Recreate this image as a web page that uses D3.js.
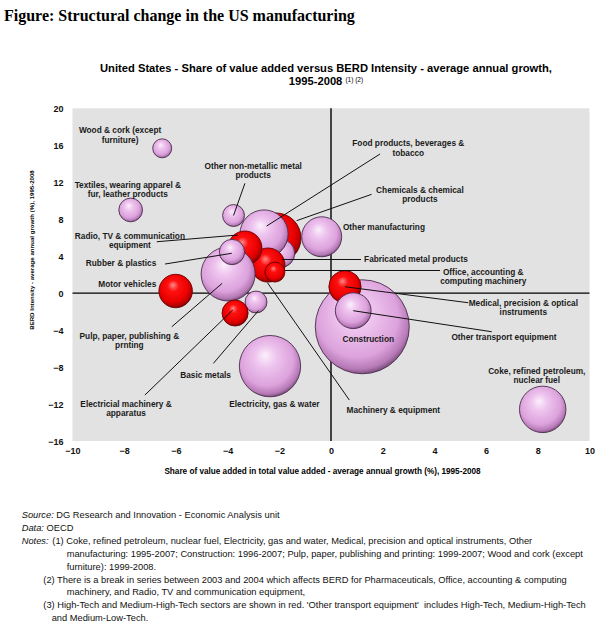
<!DOCTYPE html>
<html>
<head>
<meta charset="utf-8">
<script src="https://cdn.jsdelivr.net/npm/d3@7"></script>
<style>
  body { margin: 0; background: #fff; }
  svg { display: block; }
  text { font-family: "Liberation Sans", Arial, sans-serif; }
</style>
</head>
<body>
<svg width="609" height="631"></svg>
<script>

// sectors, in the order the bubbles are drawn (later ones sit on top)
var sectors = [
  "Construction", "Medical, precision & optical instruments", "Other transport equipment",
  "Chemicals & chemical products", "Fabricated metal products", "Food products, beverages & tobacco",
  "Machinery & equipment", "Office, accounting & computing machinery", "Radio, TV & communication equipment",
  "Pulp, paper, publishing & printing", "Rubber & plastics", "Other non-metallic metal products",
  "Basic metals", "Electrical machinery & apparatus", "Electricity, gas & water",
  "Other manufacturing", "Motor vehicles", "Textiles, wearing apparel & fur, leather products",
  "Wood & cork (except furniture)", "Coke, refined petroleum, nuclear fuel"
];

// share of value added - average annual growth (%)
var shareGrowth = [1.21, 0.54, 0.86, -2.13, -1.95, -2.59, -2.44, -2.17, -3.33, -3.98,
                   -3.83, -3.77, -2.90, -3.71, -2.36, -0.36, -6.01, -7.75, -6.53, 8.19];

// BERD intensity - average annual growth (%)
var berdGrowth = [-3.64, 0.69, -1.90, 5.96, 4.30, 6.40, 3.04, 2.28, 4.88, 2.07,
                  4.45, 8.40, -0.96, -2.15, -7.90, 6.10, 0.23, 9.00, 15.67, -12.58];

// bubble size
var bubbleSize = [22.1, 2.6, 3.2, 6.3, 2.0, 5.8, 2.9, 1.0, 2.9, 7.3,
                  1.6, 1.2, 1.2, 1.7, 9.4, 4.0, 2.8, 1.4, 0.9, 5.4];

// technology level (HT and MHT are drawn in red)
var techLevel = ["none", "HT", "mixed", "MHT", "MLT", "LT", "MHT", "HT", "HT", "LT",
                 "MLT", "MLT", "MLT", "MHT", "none", "LT", "MHT", "LT", "LT", "MLT"];

var xTicks = [-10, -8, -6, -4, -2, 0, 2, 4, 6, 8, 10];
var yTicks = [-16, -12, -8, -4, 0, 4, 8, 12, 16, 20];

// labels, placed in data units, with optional leader line (from -> to)
var labels = [
  {lines: ["Wood & cork (except", "furniture)"], x: -8.16, y: 17.3},
  {lines: ["Other non-metallic metal", "products"], x: -3.01, y: 13.43, from: [-3.33, 11.88], to: [-3.77, 8.4]},
  {lines: ["Textiles, wearing apparel &", "fur, leather products"], x: -7.86, y: 11.37},
  {lines: ["Radio, TV & communication", "equipment"], x: -7.78, y: 5.89, from: [-6.74, 5.56], to: [-3.6, 6.29]},
  {lines: ["Rubber & plastics"], x: -8.12, y: 2.9, from: [-6.42, 3.15], to: [-3.84, 4.31]},
  {lines: ["Motor vehicles"], x: -7.88, y: 0.63},
  {lines: ["Food products, beverages &", "tobacco"], x: 2.99, y: 15.89, from: [1.9, 15.06], to: [-2.49, 7.26]},
  {lines: ["Chemicals & chemical", "products"], x: 3.44, y: 10.83, from: [1.57, 10.69], to: [-1.33, 7.84]},
  {lines: ["Other manufacturing"], x: 0.46, y: 6.86, anchor: "start"},
  {lines: ["Fabricated metal products"], x: 1.28, y: 3.33, anchor: "start", from: [1.16, 3.64], to: [-1.9, 3.64]},
  {lines: ["Office, accounting &", "computing machinery"], x: 5.89, y: 1.99, from: [4.22, 2.45], to: [-1.78, 2.45]},
  {lines: ["Medical, precision & optical", "instruments"], x: 7.44, y: -1.36, from: [5.31, -1.04], to: [0.54, 0.69]},
  {lines: ["Other transport  equipment"], x: 6.69, y: -5.11, from: [6.22, -4.18], to: [0.86, -1.9]},
  {lines: ["Construction"], x: 1.44, y: -5.32},
  {lines: ["Coke, refined petroleum,", "nuclear fuel"], x: 7.96, y: -8.76},
  {lines: ["Machinery & equipment"], x: 2.41, y: -12.98, from: [0.71, -11.57], to: [-2.46, 1.13]},
  {lines: ["Pulp, paper, publishing &", "prnting"], x: -7.8, y: -4.97, from: [-6.16, -3.64], to: [-4.21, 1.06]},
  {lines: ["Basic metals"], x: -4.85, y: -9.19, from: [-4.55, -7.6], to: [-2.81, -1.9]},
  {lines: ["Electricial machinery &", "apparatus"], x: -7.93, y: -12.33, from: [-7.2, -11.03], to: [-3.8, -1.83]},
  {lines: ["Electricity, gas & water"], x: -2.19, y: -12.33}
];

var notes = [
  {x: 52.3, text: "(1) Coke, refined petroleum, nuclear fuel, Electricity, gas and water, Medical, precision and optical instruments, Other"},
  {x: 66.7, text: "manufacturing: 1995-2007; Construction: 1996-2007; Pulp, paper, publishing and printing: 1999-2007; Wood and cork (except"},
  {x: 66.7, text: "furniture): 1999-2008."},
  {x: 43.3, text: "(2) There is a break in series between 2003 and 2004 which affects BERD for Pharmaceuticals, Office, accounting & computing"},
  {x: 66.7, text: "machinery, and Radio, TV and communication equipment,"},
  {x: 43.3, text: "(3) High-Tech and Medium-High-Tech sectors are shown in red. 'Other transport equipment'  includes High-Tech, Medium-High-Tech"},
  {x: 51.7, text: "and Medium-Low-Tech."}
];


var svg = d3.select("svg");

var margin = {left: 72.5, right: 589.5, top: 108.3, bottom: 441};

var x = d3.scaleLinear()
    .domain([-10, 10])
    .range([margin.left, margin.right]);

var y = d3.scaleLinear()
    .domain([-16, 20])
    .range([margin.bottom, margin.top]);

var r = d3.scaleSqrt()
    .domain([0, 22.1])
    .range([0, 47]);

function isRed(level) { return level === "HT" || level === "MHT"; }

// sphere shading
var defs = svg.append("defs");

function sphere(id, stops) {
  var g = defs.append("radialGradient")
      .attr("id", id)
      .attr("cx", 0.46).attr("cy", 0.42)
      .attr("fx", 0.42).attr("fy", 0.32)
      .attr("r", 0.6);
  stops.forEach(function(s) {
    g.append("stop").attr("offset", s[0]).attr("stop-color", s[1]);
  });
}

sphere("pink", [[0, "#fbf0fb"], [0.3, "#eec4ee"], [0.72, "#dca2dc"], [0.9, "#b67ab6"], [1, "#6e4470"]]);
sphere("red", [[0, "#ff8a8a"], [0.28, "#ff1010"], [0.72, "#e80000"], [0.9, "#b00000"], [1, "#5a0000"]]);

// titles
svg.append("text")
    .attr("x", 4)
    .attr("y", 21)
    .style("font-family", "'Liberation Serif', 'Times New Roman', serif")
    .style("font-weight", "bold")
    .style("font-size", "16px")
    .text("Figure: Structural change in the US manufacturing");

svg.append("text")
    .attr("x", 326)
    .attr("y", 72)
    .attr("text-anchor", "middle")
    .style("font-weight", "bold")
    .style("font-size", "11.2px")
    .text("United States - Share of value added versus BERD Intensity - average annual growth,");

var t2 = svg.append("text")
    .attr("x", 326)
    .attr("y", 85)
    .attr("text-anchor", "middle")
    .style("font-weight", "bold")
    .style("font-size", "11.2px");
t2.append("tspan").text("1995-2008 ");
t2.append("tspan")
    .attr("dy", -3)
    .style("font-size", "6.5px")
    .style("font-weight", "normal")
    .text("(1) (2)");

// plot area
svg.append("rect")
    .attr("x", x(-10))
    .attr("y", y(20))
    .attr("width", x(10) - x(-10))
    .attr("height", y(-16) - y(20))
    .attr("fill", "#e2e2e2");

svg.append("line")
    .attr("x1", x(-10)).attr("x2", x(10))
    .attr("y1", y(0)).attr("y2", y(0))
    .attr("stroke", "#000")
    .attr("stroke-width", 1.4);

svg.append("line")
    .attr("x1", x(0)).attr("x2", x(0))
    .attr("y1", y(20)).attr("y2", y(-16))
    .attr("stroke", "#000")
    .attr("stroke-width", 1.4);

// axes (labels only)
var xAxis = svg.append("g")
    .attr("transform", "translate(0," + (y(-16) + 4) + ")")
    .call(d3.axisBottom(x).tickValues(xTicks).tickSize(0).tickFormat(d3.format("d")));

var yAxis = svg.append("g")
    .attr("transform", "translate(" + (x(-10) - 6) + ",0)")
    .call(d3.axisLeft(y).tickValues(yTicks).tickSize(0).tickFormat(d3.format("d")));

[xAxis, yAxis].forEach(function(a) {
  a.select(".domain").remove();
  a.selectAll("text")
      .style("font-family", "'Liberation Sans', Arial, sans-serif")
      .style("font-weight", "bold")
      .style("font-size", "9px")
      .attr("fill", "#111");
});
yAxis.selectAll("text").attr("dy", "0.35em");

svg.append("text")
    .attr("x", 322.5)
    .attr("y", 473.5)
    .attr("text-anchor", "middle")
    .style("font-weight", "bold")
    .style("font-size", "8.2px")
    .text("Share of value added in total value added - average annual growth (%), 1995-2008");

svg.append("text")
    .attr("transform", "translate(34,250) rotate(-90)")
    .attr("text-anchor", "middle")
    .style("font-weight", "bold")
    .style("font-size", "6.1px")
    .text("BERD Intensity - average annual growth (%), 1995-2008");

// bubbles
svg.append("g")
  .selectAll("circle")
    .data(sectors)
  .enter().append("circle")
    .attr("cx", function(d, i) { return x(shareGrowth[i]); })
    .attr("cy", function(d, i) { return y(berdGrowth[i]); })
    .attr("r", function(d, i) { return r(bubbleSize[i]); })
    .attr("fill", function(d, i) { return isRed(techLevel[i]) ? "url(#red)" : "url(#pink)"; })
    .attr("stroke", function(d, i) { return isRed(techLevel[i]) ? "#6a0000" : "#4a2c4c"; })
    .attr("stroke-width", 0.9);

// leader lines
svg.append("g")
  .selectAll("line")
    .data(labels.filter(function(d) { return d.from; }))
  .enter().append("line")
    .attr("x1", function(d) { return x(d.from[0]); })
    .attr("y1", function(d) { return y(d.from[1]); })
    .attr("x2", function(d) { return x(d.to[0]); })
    .attr("y2", function(d) { return y(d.to[1]); })
    .attr("stroke", "#111")
    .attr("stroke-width", 1);

// labels
var lab = svg.append("g")
  .selectAll("text")
    .data(labels)
  .enter().append("text")
    .attr("x", function(d) { return x(d.x); })
    .attr("y", function(d) { return y(d.y); })
    .attr("text-anchor", function(d) { return d.anchor || "middle"; })
    .style("font-weight", "bold")
    .style("font-size", "8.3px")
    .attr("fill", "#1a1a1a");

lab.selectAll("tspan")
    .data(function(d) { return d.lines.map(function(l) { return {t: l, x: x(d.x)}; }); })
  .enter().append("tspan")
    .attr("x", function(d) { return d.x; })
    .attr("dy", function(d, i) { return i ? 9.3 : 0; })
    .text(function(d) { return d.t; });

// source and notes
var foot = svg.append("g")
    .style("font-size", "9.3px")
    .attr("fill", "#111");

function footLine(xp, yp, lead, rest) {
  var t = foot.append("text").attr("x", xp).attr("y", yp);
  if (lead) t.append("tspan").style("font-style", "italic").text(lead);
  t.append("tspan").text(rest);
}

footLine(21.7, 518, "Source:", " DG Research and Innovation - Economic Analysis unit");
footLine(21.7, 530.9, "Data:", " OECD");
footLine(21.7, 543.8, "Notes:", "");

notes.forEach(function(n, i) {
  foot.append("text")
      .attr("x", n.x)
      .attr("y", 543.8 + i * 12.9)
      .style("white-space", "pre")
      .text(n.text);
});

</script>
</body>
</html>
